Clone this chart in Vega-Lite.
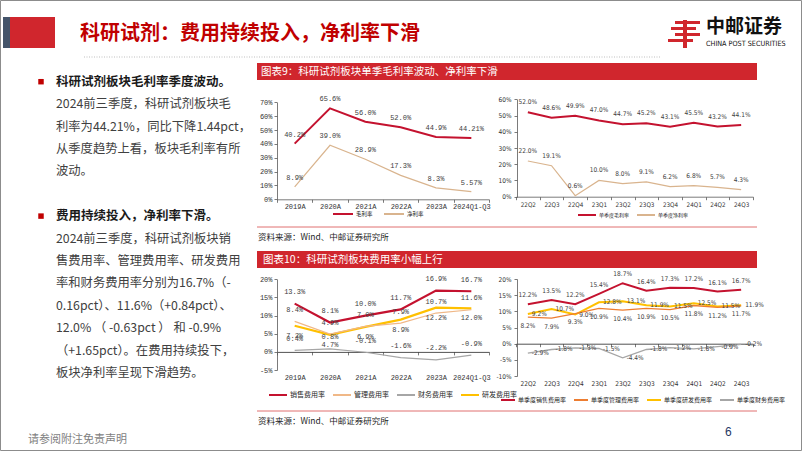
{
"$schema":"https://vega.github.io/schema/vega-lite/v6.json",
"width":802,"height":451,"autosize":{"type":"none"},"padding":0,"background":"white",
"config":{"view":{"stroke":null},"axis":{"grid":false,"domainColor":"#595959","tickColor":"#595959","labelColor":"#333333","domainWidth":0.8,"tickWidth":0.8}},
"resolve":{"scale":{"x":"independent","y":"independent","color":"independent"},"axis":{"x":"independent","y":"independent"},"legend":{"color":"independent"}},
"layer":[
{
"data":{"values":[{}]},
"layer":[
{"mark":{"type":"rect","filled":false,"stroke":"#8C8C8C","strokeWidth":1},"encoding":{"x":{"value":0.5},"x2":{"value":801.5},"y":{"value":0.5},"y2":{"value":450.5}}},
{"mark":{"type":"rect","color":"#44546A"},"encoding":{"x":{"value":3},"x2":{"value":10},"y":{"value":17},"y2":{"value":48}}},
{"mark":{"type":"rect","color":"#D0262D"},"encoding":{"x":{"value":10},"x2":{"value":55},"y":{"value":17},"y2":{"value":48}}},
{"mark":{"type":"text","align":"left","baseline":"middle","font":"Noto Sans CJK SC","fontSize":20,"fontWeight":"bold","color":"#C00000"},"encoding":{"x":{"value":80},"y":{"value":34},"text":{"value":"科研试剂：费用持续投入，净利率下滑"}}},
{"mark":{"type":"rule","color":"#BFBFBF","strokeDash":[1,1.5],"strokeWidth":1},"encoding":{"x":{"value":84},"x2":{"value":660},"y":{"value":57}}},
{"mark":{"type":"rect","color":"#D0262D"},"encoding":{"x":{"value":675},"x2":{"value":700},"y":{"value":21},"y2":{"value":24}}},
{"mark":{"type":"rect","color":"#D0262D"},"encoding":{"x":{"value":671},"x2":{"value":696},"y":{"value":27},"y2":{"value":30}}},
{"mark":{"type":"rect","color":"#D0262D"},"encoding":{"x":{"value":675},"x2":{"value":700},"y":{"value":33},"y2":{"value":36}}},
{"mark":{"type":"rect","color":"#D0262D"},"encoding":{"x":{"value":668},"x2":{"value":693},"y":{"value":39},"y2":{"value":42}}},
{"mark":{"type":"rect","color":"#D0262D"},"encoding":{"x":{"value":683},"x2":{"value":687},"y":{"value":20},"y2":{"value":48}}},
{"mark":{"type":"text","align":"left","baseline":"middle","font":"Noto Sans CJK SC","fontSize":19,"fontWeight":"bold","color":"#111111"},"encoding":{"x":{"value":706},"y":{"value":27},"text":{"value":"中邮证券"}}},
{"mark":{"type":"text","align":"left","baseline":"middle","font":"Liberation Sans Narrow, DejaVu Sans Condensed, Liberation Sans","fontSize":7.2,"color":"#111111"},"encoding":{"x":{"value":706},"y":{"value":44},"text":{"value":"CHINA POST SECURITIES"}}},
{"mark":{"type":"rect","color":"#D0262D"},"encoding":{"x":{"value":257},"x2":{"value":757},"y":{"value":63},"y2":{"value":80}}},
{"mark":{"type":"text","align":"left","baseline":"middle","font":"Noto Sans CJK SC","fontSize":10.5,"color":"white"},"encoding":{"x":{"value":261},"y":{"value":72},"text":{"value":"图表9：科研试剂板块单季毛利率波动、净利率下滑"}}},
{"mark":{"type":"rule","color":"#E07070","strokeWidth":1},"encoding":{"x":{"value":257},"x2":{"value":757},"y":{"value":227}}},
{"mark":{"type":"text","align":"left","baseline":"middle","font":"Noto Sans CJK SC","fontSize":8.5,"color":"#262626"},"encoding":{"x":{"value":258},"y":{"value":237},"text":{"value":"资料来源：Wind、中邮证券研究所"}}},
{"mark":{"type":"rect","color":"#D0262D"},"encoding":{"x":{"value":257},"x2":{"value":757},"y":{"value":251},"y2":{"value":268}}},
{"mark":{"type":"text","align":"left","baseline":"middle","font":"Noto Sans CJK SC","fontSize":10.5,"color":"white"},"encoding":{"x":{"value":263},"y":{"value":259.5},"text":{"value":"图表10：科研试剂板块费用率小幅上行"}}},
{"mark":{"type":"rule","color":"#E07070","strokeWidth":1},"encoding":{"x":{"value":257},"x2":{"value":757},"y":{"value":411}}},
{"mark":{"type":"text","align":"left","baseline":"middle","font":"Noto Sans CJK SC","fontSize":8.5,"color":"#262626"},"encoding":{"x":{"value":258},"y":{"value":421},"text":{"value":"资料来源：Wind、中邮证券研究所"}}},
{"mark":{"type":"text","align":"left","baseline":"middle","font":"Liberation Sans","fontSize":12,"color":"#1F3864"},"encoding":{"x":{"value":725},"y":{"value":432},"text":{"value":"6"}}}
]
},
{
"data":{"values":[
{"line":0,"kind":"heading","text":"科研试剂板块毛利率季度波动。"},
{"line":1,"kind":"body","text":"2024前三季度，科研试剂板块毛"},
{"line":2,"kind":"body","text":"利率为44.21%，同比下降1.44pct，"},
{"line":3,"kind":"body","text":"从季度趋势上看，板块毛利率有所"},
{"line":4,"kind":"body","text":"波动。"},
{"line":6,"kind":"heading","text":"费用持续投入，净利率下滑。"},
{"line":7,"kind":"body","text":"2024前三季度，科研试剂板块销"},
{"line":8,"kind":"body","text":"售费用率、管理费用率、研发费用"},
{"line":9,"kind":"body","text":"率和财务费用率分别为16.7%（-"},
{"line":10,"kind":"body","text":"0.16pct）、11.6%（+0.84pct）、"},
{"line":11,"kind":"body","text":"12.0%  （ -0.63pct ）  和  -0.9%"},
{"line":12,"kind":"body","text":"（+1.65pct）。在费用持续投下，"},
{"line":13,"kind":"body","text":"板块净利率呈现下滑趋势。"},
{"line":16,"kind":"footer","text":"请参阅附注免责声明"}
]},
"encoding":{"y":{"field":"line","type":"quantitative","scale":{"domain":[0,16],"range":[81.7,440.1]},"axis":null}},
"layer":[
{"transform":[{"filter":"datum.kind === 'heading'"}],"mark":{"type":"square","size":30,"color":"#C00000","opacity":1,"filled":true},"encoding":{"x":{"value":41}}},
{"transform":[{"filter":"datum.kind === 'heading'"}],"mark":{"type":"text","align":"left","baseline":"middle","font":"Noto Sans CJK SC","fontSize":12.5,"fontWeight":"bold","color":"#1A1A1A"},"encoding":{"x":{"value":56},"text":{"field":"text"}}},
{"transform":[{"filter":"datum.kind === 'body'"}],"mark":{"type":"text","align":"left","baseline":"middle","font":"Noto Sans CJK SC","fontSize":12.3,"color":"#404040"},"encoding":{"x":{"value":56},"text":{"field":"text"}}},
{"transform":[{"filter":"datum.kind === 'footer'"}],"mark":{"type":"text","align":"left","baseline":"middle","font":"Noto Sans CJK SC","fontSize":11,"color":"#7F7F7F"},"encoding":{"x":{"value":28},"text":{"field":"text"}}}
]
},
{
"data":{"values":[
{"period":"2019A","series":"毛利率","value":40.2,"label":"40.2%"},
{"period":"2020A","series":"毛利率","value":65.6,"label":"65.6%"},
{"period":"2021A","series":"毛利率","value":56.0,"label":"56.0%"},
{"period":"2022A","series":"毛利率","value":52.0,"label":"52.0%"},
{"period":"2023A","series":"毛利率","value":44.9,"label":"44.9%"},
{"period":"2024Q1-Q3","series":"毛利率","value":44.21,"label":"44.21%"},
{"period":"2019A","series":"净利率","value":8.9,"label":"8.9%"},
{"period":"2020A","series":"净利率","value":39.0,"label":"39.0%"},
{"period":"2021A","series":"净利率","value":28.9,"label":"28.9%"},
{"period":"2022A","series":"净利率","value":17.3,"label":"17.3%"},
{"period":"2023A","series":"净利率","value":8.3,"label":"8.3%"},
{"period":"2024Q1-Q3","series":"净利率","value":5.57,"label":"5.57%"}
]},
"encoding":{
"x":{"field":"period","type":"ordinal","sort":["2019A","2020A","2021A","2022A","2023A","2024Q1-Q3"],"scale":{"type":"band","range":[277,489],"paddingInner":0,"paddingOuter":0},"axis":{"title":null,"orient":"bottom","offset":-251.7,"tickBand":"extent","tickSize":3,"labelAngle":0,"labelFont":"Liberation Mono","labelFontSize":7,"labelPadding":0.5}},
"y":{"field":"value","type":"quantitative","scale":{"domain":[0,70],"range":[199.3,102.3],"nice":false},"axis":{"title":null,"orient":"left","offset":-277,"values":[0,10,20,30,40,50,60,70],"labelExpr":"datum.value + '%'","tickSize":3,"labelFont":"Liberation Mono","labelFontSize":7,"labelPadding":2}}
},
"layer":[
{"transform":[{"filter":"datum.series === '毛利率'"}],"mark":{"type":"line","strokeWidth":2},"encoding":{"color":{"field":"series","type":"nominal","scale":{"domain":["毛利率","净利率"],"range":["#C4122F","#D9B48E"]},"legend":{"title":null,"orient":"none","legendX":332,"legendY":203,"direction":"horizontal","symbolType":"stroke","symbolSize":400,"symbolStrokeWidth":2,"labelFont":"Noto Sans CJK SC","labelFontSize":5.5,"labelColor":"#262626","labelOffset":2,"columnPadding":7,"padding":0}}}},
{"transform":[{"filter":"datum.series === '净利率'"}],"mark":{"type":"line","strokeWidth":1.2},"encoding":{"color":{"field":"series","type":"nominal","scale":{"domain":["毛利率","净利率"],"range":["#C4122F","#D9B48E"]},"legend":{"title":null,"orient":"none","legendX":332,"legendY":203,"direction":"horizontal","symbolType":"stroke","symbolSize":400,"symbolStrokeWidth":2,"labelFont":"Noto Sans CJK SC","labelFontSize":5.5,"labelColor":"#262626","labelOffset":2,"columnPadding":7,"padding":0}}}},
{"mark":{"type":"text","dy":-9,"font":"Liberation Mono","fontSize":7,"color":"#404040"},"encoding":{"text":{"field":"label"}}}
]
},
{
"data":{"values":[
{"q":"22Q2","series":"单季度毛利率","value":52.0,"label":"52.0%"},
{"q":"22Q3","series":"单季度毛利率","value":48.6,"label":"48.6%"},
{"q":"22Q4","series":"单季度毛利率","value":49.9,"label":"49.9%"},
{"q":"23Q1","series":"单季度毛利率","value":47.0,"label":"47.0%"},
{"q":"23Q2","series":"单季度毛利率","value":44.7,"label":"44.7%"},
{"q":"23Q3","series":"单季度毛利率","value":45.2,"label":"45.2%"},
{"q":"23Q4","series":"单季度毛利率","value":43.1,"label":"43.1%"},
{"q":"24Q1","series":"单季度毛利率","value":45.5,"label":"45.5%"},
{"q":"24Q2","series":"单季度毛利率","value":43.2,"label":"43.2%"},
{"q":"24Q3","series":"单季度毛利率","value":44.1,"label":"44.1%"},
{"q":"22Q2","series":"单季度净利率","value":22.0,"label":"22.0%"},
{"q":"22Q3","series":"单季度净利率","value":19.1,"label":"19.1%"},
{"q":"22Q4","series":"单季度净利率","value":0.6,"label":"0.6%"},
{"q":"23Q1","series":"单季度净利率","value":10.0,"label":"10.0%"},
{"q":"23Q2","series":"单季度净利率","value":8.0,"label":"8.0%"},
{"q":"23Q3","series":"单季度净利率","value":9.1,"label":"9.1%"},
{"q":"23Q4","series":"单季度净利率","value":6.2,"label":"6.2%"},
{"q":"24Q1","series":"单季度净利率","value":6.8,"label":"6.8%"},
{"q":"24Q2","series":"单季度净利率","value":5.7,"label":"5.7%"},
{"q":"24Q3","series":"单季度净利率","value":4.3,"label":"4.3%"}
]},
"encoding":{
"x":{"field":"q","type":"ordinal","sort":["22Q2","22Q3","22Q4","23Q1","23Q2","23Q3","23Q4","24Q1","24Q2","24Q3"],"scale":{"type":"band","range":[516,753],"paddingInner":0,"paddingOuter":0},"axis":{"title":null,"orient":"bottom","offset":-254.3,"tickBand":"extent","tickSize":3,"labelAngle":0,"labelFont":"Liberation Sans Narrow, DejaVu Sans Condensed, Liberation Sans","labelFontSize":6.3,"labelPadding":1.5}},
"y":{"field":"value","type":"quantitative","scale":{"domain":[0,60],"range":[196.7,99.3],"nice":false},"axis":{"title":null,"orient":"left","offset":-517,"values":[0,10,20,30,40,50,60],"labelExpr":"datum.value + '%'","tickSize":3,"labelFont":"Liberation Sans Narrow, DejaVu Sans Condensed, Liberation Sans","labelFontSize":6.5,"labelPadding":3}}
},
"layer":[
{"transform":[{"filter":"datum.series === '单季度毛利率'"}],"mark":{"type":"line","strokeWidth":2},"encoding":{"color":{"field":"series","type":"nominal","scale":{"domain":["单季度毛利率","单季度净利率"],"range":["#C4122F","#D9B48E"]},"legend":{"title":null,"orient":"none","legendX":577,"legendY":205,"direction":"horizontal","symbolType":"stroke","symbolSize":324,"symbolStrokeWidth":2,"labelFont":"Noto Sans CJK SC","labelFontSize":5,"labelColor":"#262626","labelOffset":2,"columnPadding":3,"padding":0}}}},
{"transform":[{"filter":"datum.series === '单季度净利率'"}],"mark":{"type":"line","strokeWidth":1.2},"encoding":{"color":{"field":"series","type":"nominal","scale":{"domain":["单季度毛利率","单季度净利率"],"range":["#C4122F","#D9B48E"]},"legend":{"title":null,"orient":"none","legendX":577,"legendY":205,"direction":"horizontal","symbolType":"stroke","symbolSize":324,"symbolStrokeWidth":2,"labelFont":"Noto Sans CJK SC","labelFontSize":5,"labelColor":"#262626","labelOffset":2,"columnPadding":3,"padding":0}}}},
{"mark":{"type":"text","dy":-10,"font":"Liberation Sans Narrow, DejaVu Sans Condensed, Liberation Sans","fontSize":6.5,"color":"#404040"},"encoding":{"text":{"field":"label"}}}
]
},
{
"data":{"values":[
{"period":"2019A","series":"销售费用率","value":13.3,"label":"13.3%"},
{"period":"2020A","series":"销售费用率","value":8.1,"label":"8.1%"},
{"period":"2021A","series":"销售费用率","value":10.0,"label":"10.0%"},
{"period":"2022A","series":"销售费用率","value":11.7,"label":"11.7%"},
{"period":"2023A","series":"销售费用率","value":16.9,"label":"16.9%"},
{"period":"2024Q1-Q3","series":"销售费用率","value":16.7,"label":"16.7%"},
{"period":"2019A","series":"管理费用率","value":8.4,"label":"8.4%"},
{"period":"2020A","series":"管理费用率","value":4.9,"label":"4.9%"},
{"period":"2021A","series":"管理费用率","value":7.0,"label":"7.0%"},
{"period":"2022A","series":"管理费用率","value":7.9,"label":"7.9%"},
{"period":"2023A","series":"管理费用率","value":10.7,"label":"10.7%"},
{"period":"2024Q1-Q3","series":"管理费用率","value":11.6,"label":"11.6%"},
{"period":"2019A","series":"财务费用率","value":0.4,"label":"0.4%"},
{"period":"2020A","series":"财务费用率","value":0.8,"label":"0.8%"},
{"period":"2021A","series":"财务费用率","value":-0.1,"label":"-0.1%"},
{"period":"2022A","series":"财务费用率","value":-1.6,"label":"-1.6%"},
{"period":"2023A","series":"财务费用率","value":-2.2,"label":"-2.2%"},
{"period":"2024Q1-Q3","series":"财务费用率","value":-0.9,"label":"-0.9%"},
{"period":"2019A","series":"研发费用率","value":7.2,"label":"7.2%"},
{"period":"2020A","series":"研发费用率","value":4.7,"label":"4.7%"},
{"period":"2021A","series":"研发费用率","value":6.9,"label":"6.9%"},
{"period":"2022A","series":"研发费用率","value":8.9,"label":"8.9%"},
{"period":"2023A","series":"研发费用率","value":12.2,"label":"12.2%"},
{"period":"2024Q1-Q3","series":"研发费用率","value":12.0,"label":"12.0%"}
]},
"encoding":{
"x":{"field":"period","type":"ordinal","sort":["2019A","2020A","2021A","2022A","2023A","2024Q1-Q3"],"scale":{"type":"band","range":[277,489],"paddingInner":0,"paddingOuter":0},"axis":{"title":null,"orient":"bottom","offset":-99.1,"tickBand":"extent","tickSize":3,"labelAngle":0,"labelFont":"Liberation Mono","labelFontSize":7,"labelPadding":18.3,"domainColor":"#262626"}},
"y":{"field":"value","type":"quantitative","scale":{"domain":[-5,20],"range":[370,279.3],"nice":false,"zero":false},"axis":{"title":null,"orient":"left","offset":-277,"values":[-5,0,5,10,15,20],"labelExpr":"datum.value + '%'","tickSize":3,"labelFont":"Liberation Mono","labelFontSize":7,"labelPadding":2}}
},
"layer":[
{"transform":[{"filter":"datum.series === '销售费用率' || datum.series === '研发费用率'"}],"mark":{"type":"line","strokeWidth":2.2},"encoding":{"color":{"field":"series","type":"nominal","scale":{"domain":["销售费用率","管理费用率","财务费用率","研发费用率"],"range":["#C4122F","#F0B887","#A6A6A6","#FFC000"]},"legend":{"title":null,"orient":"none","legendX":268,"legendY":385,"direction":"horizontal","symbolType":"stroke","symbolSize":324,"symbolStrokeWidth":2,"labelFont":"Noto Sans CJK SC","labelFontSize":7,"labelColor":"#262626","labelOffset":2,"columnPadding":4,"padding":0}}}},
{"transform":[{"filter":"datum.series === '管理费用率' || datum.series === '财务费用率'"}],"mark":{"type":"line","strokeWidth":1.2},"encoding":{"color":{"field":"series","type":"nominal","scale":{"domain":["销售费用率","管理费用率","财务费用率","研发费用率"],"range":["#C4122F","#F0B887","#A6A6A6","#FFC000"]},"legend":{"title":null,"orient":"none","legendX":268,"legendY":385,"direction":"horizontal","symbolType":"stroke","symbolSize":324,"symbolStrokeWidth":2,"labelFont":"Noto Sans CJK SC","labelFontSize":7,"labelColor":"#262626","labelOffset":2,"columnPadding":4,"padding":0}}}},
{"transform":[{"filter":"datum.series !== '研发费用率'"}],"mark":{"type":"text","dy":-11.5,"font":"Liberation Mono","fontSize":7,"color":"#404040"},"encoding":{"text":{"field":"label"}}},
{"transform":[{"filter":"datum.series === '研发费用率'"}],"mark":{"type":"text","dy":10,"font":"Liberation Mono","fontSize":7,"color":"#404040"},"encoding":{"text":{"field":"label"}}}
]
},
{
"data":{"values":[
{"q":"22Q2","series":"单季度销售费用率","value":12.2,"label":"12.2%"},
{"q":"22Q3","series":"单季度销售费用率","value":13.5,"label":"13.5%"},
{"q":"22Q4","series":"单季度销售费用率","value":12.2,"label":"12.2%"},
{"q":"23Q1","series":"单季度销售费用率","value":15.4,"label":"15.4%"},
{"q":"23Q2","series":"单季度销售费用率","value":18.7,"label":"18.7%"},
{"q":"23Q3","series":"单季度销售费用率","value":16.4,"label":"16.4%"},
{"q":"23Q4","series":"单季度销售费用率","value":17.3,"label":"17.3%"},
{"q":"24Q1","series":"单季度销售费用率","value":17.2,"label":"17.2%"},
{"q":"24Q2","series":"单季度销售费用率","value":16.1,"label":"16.1%"},
{"q":"24Q3","series":"单季度销售费用率","value":16.7,"label":"16.7%"},
{"q":"22Q2","series":"单季度管理费用率","value":8.2,"label":"8.2%"},
{"q":"22Q3","series":"单季度管理费用率","value":7.9,"label":"7.9%"},
{"q":"22Q4","series":"单季度管理费用率","value":9.3,"label":"9.3%"},
{"q":"23Q1","series":"单季度管理费用率","value":10.9,"label":"10.9%"},
{"q":"23Q2","series":"单季度管理费用率","value":10.4,"label":"10.4%"},
{"q":"23Q3","series":"单季度管理费用率","value":10.9,"label":"10.9%"},
{"q":"23Q4","series":"单季度管理费用率","value":10.5,"label":"10.5%"},
{"q":"24Q1","series":"单季度管理费用率","value":11.8,"label":"11.8%"},
{"q":"24Q2","series":"单季度管理费用率","value":11.2,"label":"11.2%"},
{"q":"24Q3","series":"单季度管理费用率","value":11.7,"label":"11.7%"},
{"q":"22Q2","series":"单季度研发费用率","value":9.2,"label":"9.2%"},
{"q":"22Q3","series":"单季度研发费用率","value":10.7,"label":"10.7%"},
{"q":"22Q4","series":"单季度研发费用率","value":9.0,"label":"9.0%"},
{"q":"23Q1","series":"单季度研发费用率","value":12.8,"label":"12.8%"},
{"q":"23Q2","series":"单季度研发费用率","value":13.1,"label":"13.1%"},
{"q":"23Q3","series":"单季度研发费用率","value":11.9,"label":"11.9%"},
{"q":"23Q4","series":"单季度研发费用率","value":11.5,"label":"11.5%"},
{"q":"24Q1","series":"单季度研发费用率","value":12.5,"label":"12.5%"},
{"q":"24Q2","series":"单季度研发费用率","value":11.5,"label":"11.5%"},
{"q":"24Q3","series":"单季度研发费用率","value":11.9,"label":"11.9%"},
{"q":"22Q2","series":"单季度财务费用率","value":-2.9,"label":"-2.9%"},
{"q":"22Q3","series":"单季度财务费用率","value":-1.8,"label":"-1.8%"},
{"q":"22Q4","series":"单季度财务费用率","value":-1.3,"label":"-1.3%"},
{"q":"23Q1","series":"单季度财务费用率","value":-1.5,"label":"-1.5%"},
{"q":"23Q2","series":"单季度财务费用率","value":-4.4,"label":"-4.4%"},
{"q":"23Q3","series":"单季度财务费用率","value":-1.8,"label":"-1.8%"},
{"q":"23Q4","series":"单季度财务费用率","value":-1.2,"label":"-1.2%"},
{"q":"24Q1","series":"单季度财务费用率","value":-1.6,"label":"-1.6%"},
{"q":"24Q2","series":"单季度财务费用率","value":-0.9,"label":"-0.9%"},
{"q":"24Q3","series":"单季度财务费用率","value":-0.2,"label":"-0.2%"}
]},
"encoding":{
"x":{"field":"q","type":"ordinal","sort":["22Q2","22Q3","22Q4","23Q1","23Q2","23Q3","23Q4","24Q1","24Q2","24Q3"],"scale":{"type":"band","range":[516,753],"paddingInner":0,"paddingOuter":0},"axis":{"title":null,"orient":"bottom","offset":-107.3,"tickBand":"extent","tickSize":3,"labelAngle":0,"labelFont":"Liberation Sans Narrow, DejaVu Sans Condensed, Liberation Sans","labelFontSize":6.5,"labelPadding":34,"domainColor":"#262626"}},
"y":{"field":"value","type":"quantitative","scale":{"domain":[-10,20],"range":[376,279],"nice":false,"zero":false},"axis":{"title":null,"orient":"left","offset":-517,"values":[-10,-5,0,5,10,15,20],"labelExpr":"datum.value + '%'","tickSize":3,"labelFont":"Liberation Sans Narrow, DejaVu Sans Condensed, Liberation Sans","labelFontSize":6.5,"labelPadding":3}}
},
"layer":[
{"transform":[{"filter":"datum.series === '单季度销售费用率' || datum.series === '单季度研发费用率'"}],"mark":{"type":"line","strokeWidth":2},"encoding":{"color":{"field":"series","type":"nominal","scale":{"domain":["单季度销售费用率","单季度管理费用率","单季度研发费用率","单季度财务费用率"],"range":["#C4122F","#ED7D31","#FFC000","#A6A6A6"]},"legend":{"title":null,"orient":"none","legendX":500,"legendY":392,"direction":"horizontal","symbolType":"stroke","symbolSize":196,"symbolStrokeWidth":2,"labelFont":"Noto Sans CJK SC","labelFontSize":6,"labelColor":"#262626","labelOffset":2,"columnPadding":3,"padding":0}}}},
{"transform":[{"filter":"datum.series === '单季度管理费用率' || datum.series === '单季度财务费用率'"}],"mark":{"type":"line","strokeWidth":1.3},"encoding":{"color":{"field":"series","type":"nominal","scale":{"domain":["单季度销售费用率","单季度管理费用率","单季度研发费用率","单季度财务费用率"],"range":["#C4122F","#ED7D31","#FFC000","#A6A6A6"]},"legend":{"title":null,"orient":"none","legendX":500,"legendY":392,"direction":"horizontal","symbolType":"stroke","symbolSize":196,"symbolStrokeWidth":2,"labelFont":"Noto Sans CJK SC","labelFontSize":6,"labelColor":"#262626","labelOffset":2,"columnPadding":3,"padding":0}}}},
{"transform":[{"filter":"datum.series === '单季度销售费用率'"}],"mark":{"type":"text","dy":-9,"font":"Liberation Sans Narrow, DejaVu Sans Condensed, Liberation Sans","fontSize":6.5,"color":"#404040"},"encoding":{"text":{"field":"label"}}},
{"transform":[{"filter":"datum.series === '单季度管理费用率'"}],"mark":{"type":"text","dy":8.5,"font":"Liberation Sans Narrow, DejaVu Sans Condensed, Liberation Sans","fontSize":6.5,"color":"#404040"},"encoding":{"text":{"field":"label"}}},
{"transform":[{"filter":"datum.series === '单季度研发费用率' || datum.series === '单季度财务费用率'"}],"mark":{"type":"text","align":"left","dx":4,"font":"Liberation Sans Narrow, DejaVu Sans Condensed, Liberation Sans","fontSize":6.5,"color":"#404040"},"encoding":{"text":{"field":"label"}}}
]
}
]
}
